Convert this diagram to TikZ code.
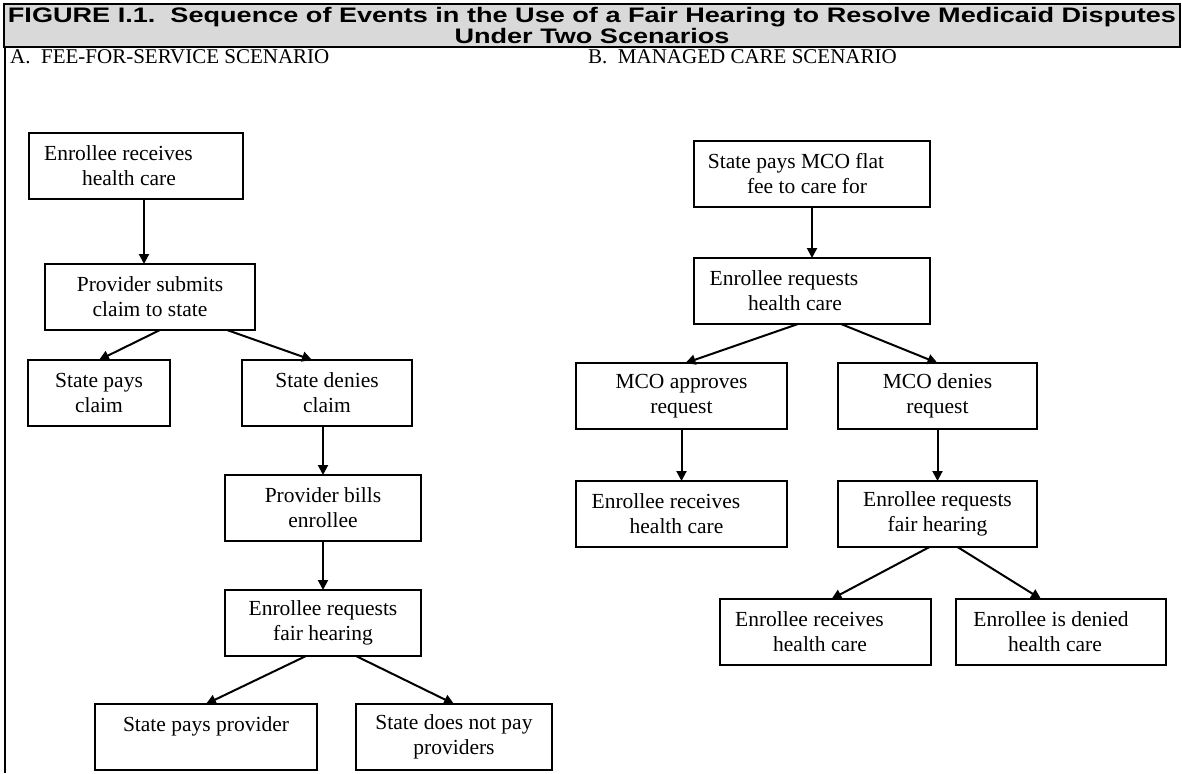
\documentclass[tikz,border=0pt]{standalone}
\usepackage{fontspec}
\setmainfont{Liberation Serif}
\newfontfamily\titlefont{Liberation Sans}[FakeStretch=1.29]
\usepackage{xcolor}
\usetikzlibrary{arrows.meta, positioning}
\definecolor{headgray}{RGB}{217,217,217}

\begin{document}
\begin{tikzpicture}[
  x=1pt, y=-1pt,
  evbox/.style={
    rectangle, draw=black, line width=2pt, outer sep=0pt,
    minimum height=66pt, inner sep=0pt, align=center,
    font=\fontsize{21.5pt}{25pt}\selectfont
  },
  headbox/.style={
    rectangle, draw=black, line width=2pt, fill=headgray,
    minimum width=1176pt, minimum height=43pt, inner sep=0pt, align=center,
    font=\titlefont\bfseries\fontsize{21pt}{19pt}\selectfont
  },
  lbl/.style={anchor=west, inner sep=0pt, font=\fontsize{21pt}{24pt}\selectfont},
  arr/.style={-{Triangle[length=10pt, width=10pt]}, line width=2pt}
]
\useasboundingbox (0,0) rectangle (1182,773);

%% Title band and left frame line
\node[headbox] (head) at (592,25.5)
  {FIGURE I.1.\ \ Sequence of Events in the Use of a Fair Hearing to Resolve Medicaid Disputes\\Under Two Scenarios};
\coordinate (framebot) at (5,773);
\draw[line width=2pt] (framebot |- head.south) -- (framebot);

\node[lbl] (labA) at (10,57)  {A.\ \ FEE-FOR-SERVICE SCENARIO};
\node[lbl] (labB) at (588,57) {B.\ \ MANAGED CARE SCENARIO};

%% A: fee-for-service, top to bottom
\node[evbox, minimum width=214pt, anchor=north west] (recv) at (29,133) {Enrollee receives\hspace*{35pt}\\health care\hspace*{14pt}};
\node[evbox, minimum width=210pt, below=65pt of recv, xshift=14pt] (submit) {Provider submits\\claim to state};
\node[evbox, minimum width=142pt, below=30pt of submit, xshift=-51pt] (pays) {State pays\\claim};
\node[evbox, minimum width=170pt, right=72pt of pays] (denies) {State denies\\claim};
\node[evbox, minimum width=196pt, below=49pt of denies, xshift=-4pt] (bills) {Provider bills\\enrollee};
\node[evbox, minimum width=196pt, below=49pt of bills] (hearA) {Enrollee requests\\fair hearing};
\node[evbox, minimum width=222pt, below=48pt of hearA, xshift=-117pt] (payprov) {State pays provider\\~};
\node[evbox, minimum width=196pt, right=39pt of payprov] (nopay) {State does not pay\\providers};

\draw[arr] ([xshift=8pt]recv.south) -- ([xshift=8pt]recv.south |- submit.north);
\draw[arr] ([xshift=10pt]submit.south) -- (pays.north);
\draw[arr] ([xshift=77pt]submit.south) -- ([xshift=-15pt]denies.north);
\draw[arr] (bills.north |- denies.south) -- (bills.north);
\draw[arr] (bills) -- (hearA);
\draw[arr] ([xshift=-17pt]hearA.south) -- (payprov.north);
\draw[arr] ([xshift=33pt]hearA.south) -- (nopay.north);

%% B: managed care, top to bottom
\node[evbox, minimum width=236pt, anchor=north west] (flatfee) at (694,141) {State pays MCO flat\hspace*{32pt}\\fee to care for\hspace*{10pt}};
\node[evbox, minimum width=236pt, below=51pt of flatfee] (reqcare) {Enrollee requests\hspace*{56pt}\\health care\hspace*{34pt}};
\node[evbox, minimum width=211pt, below=39pt of reqcare, xshift=-130.5pt] (approve) {MCO approves\\request};
\node[evbox, minimum width=199pt, right=51pt of approve] (deny) {MCO denies\\request};
\node[evbox, minimum width=211pt, below=52pt of approve] (getcare) {Enrollee receives\hspace*{31pt}\\health care\hspace*{10pt}};
\node[evbox, minimum width=199pt, below=52pt of deny] (hearB) {Enrollee requests\\fair hearing};
\node[evbox, minimum width=211pt, below=52pt of hearB, xshift=-112pt] (wincare) {Enrollee receives\hspace*{32pt}\\health care\hspace*{11pt}};
\node[evbox, minimum width=210pt, right=25pt of wincare] (nocare) {Enrollee is denied\hspace*{20pt}\\health care\hspace*{12pt}};

\draw[arr] (flatfee) -- (reqcare);
\draw[arr] ([xshift=-14pt]reqcare.south) -- ([xshift=4pt]approve.north);
\draw[arr] ([xshift=29pt]reqcare.south) -- (deny.north);
\draw[arr] (approve) -- (getcare);
\draw[arr] (deny) -- (hearB);
\draw[arr] ([xshift=-8pt]hearB.south) -- ([xshift=6pt]wincare.north);
\draw[arr] ([xshift=20pt]hearB.south) -- ([xshift=-20pt]nocare.north);

\end{tikzpicture}
\end{document}
